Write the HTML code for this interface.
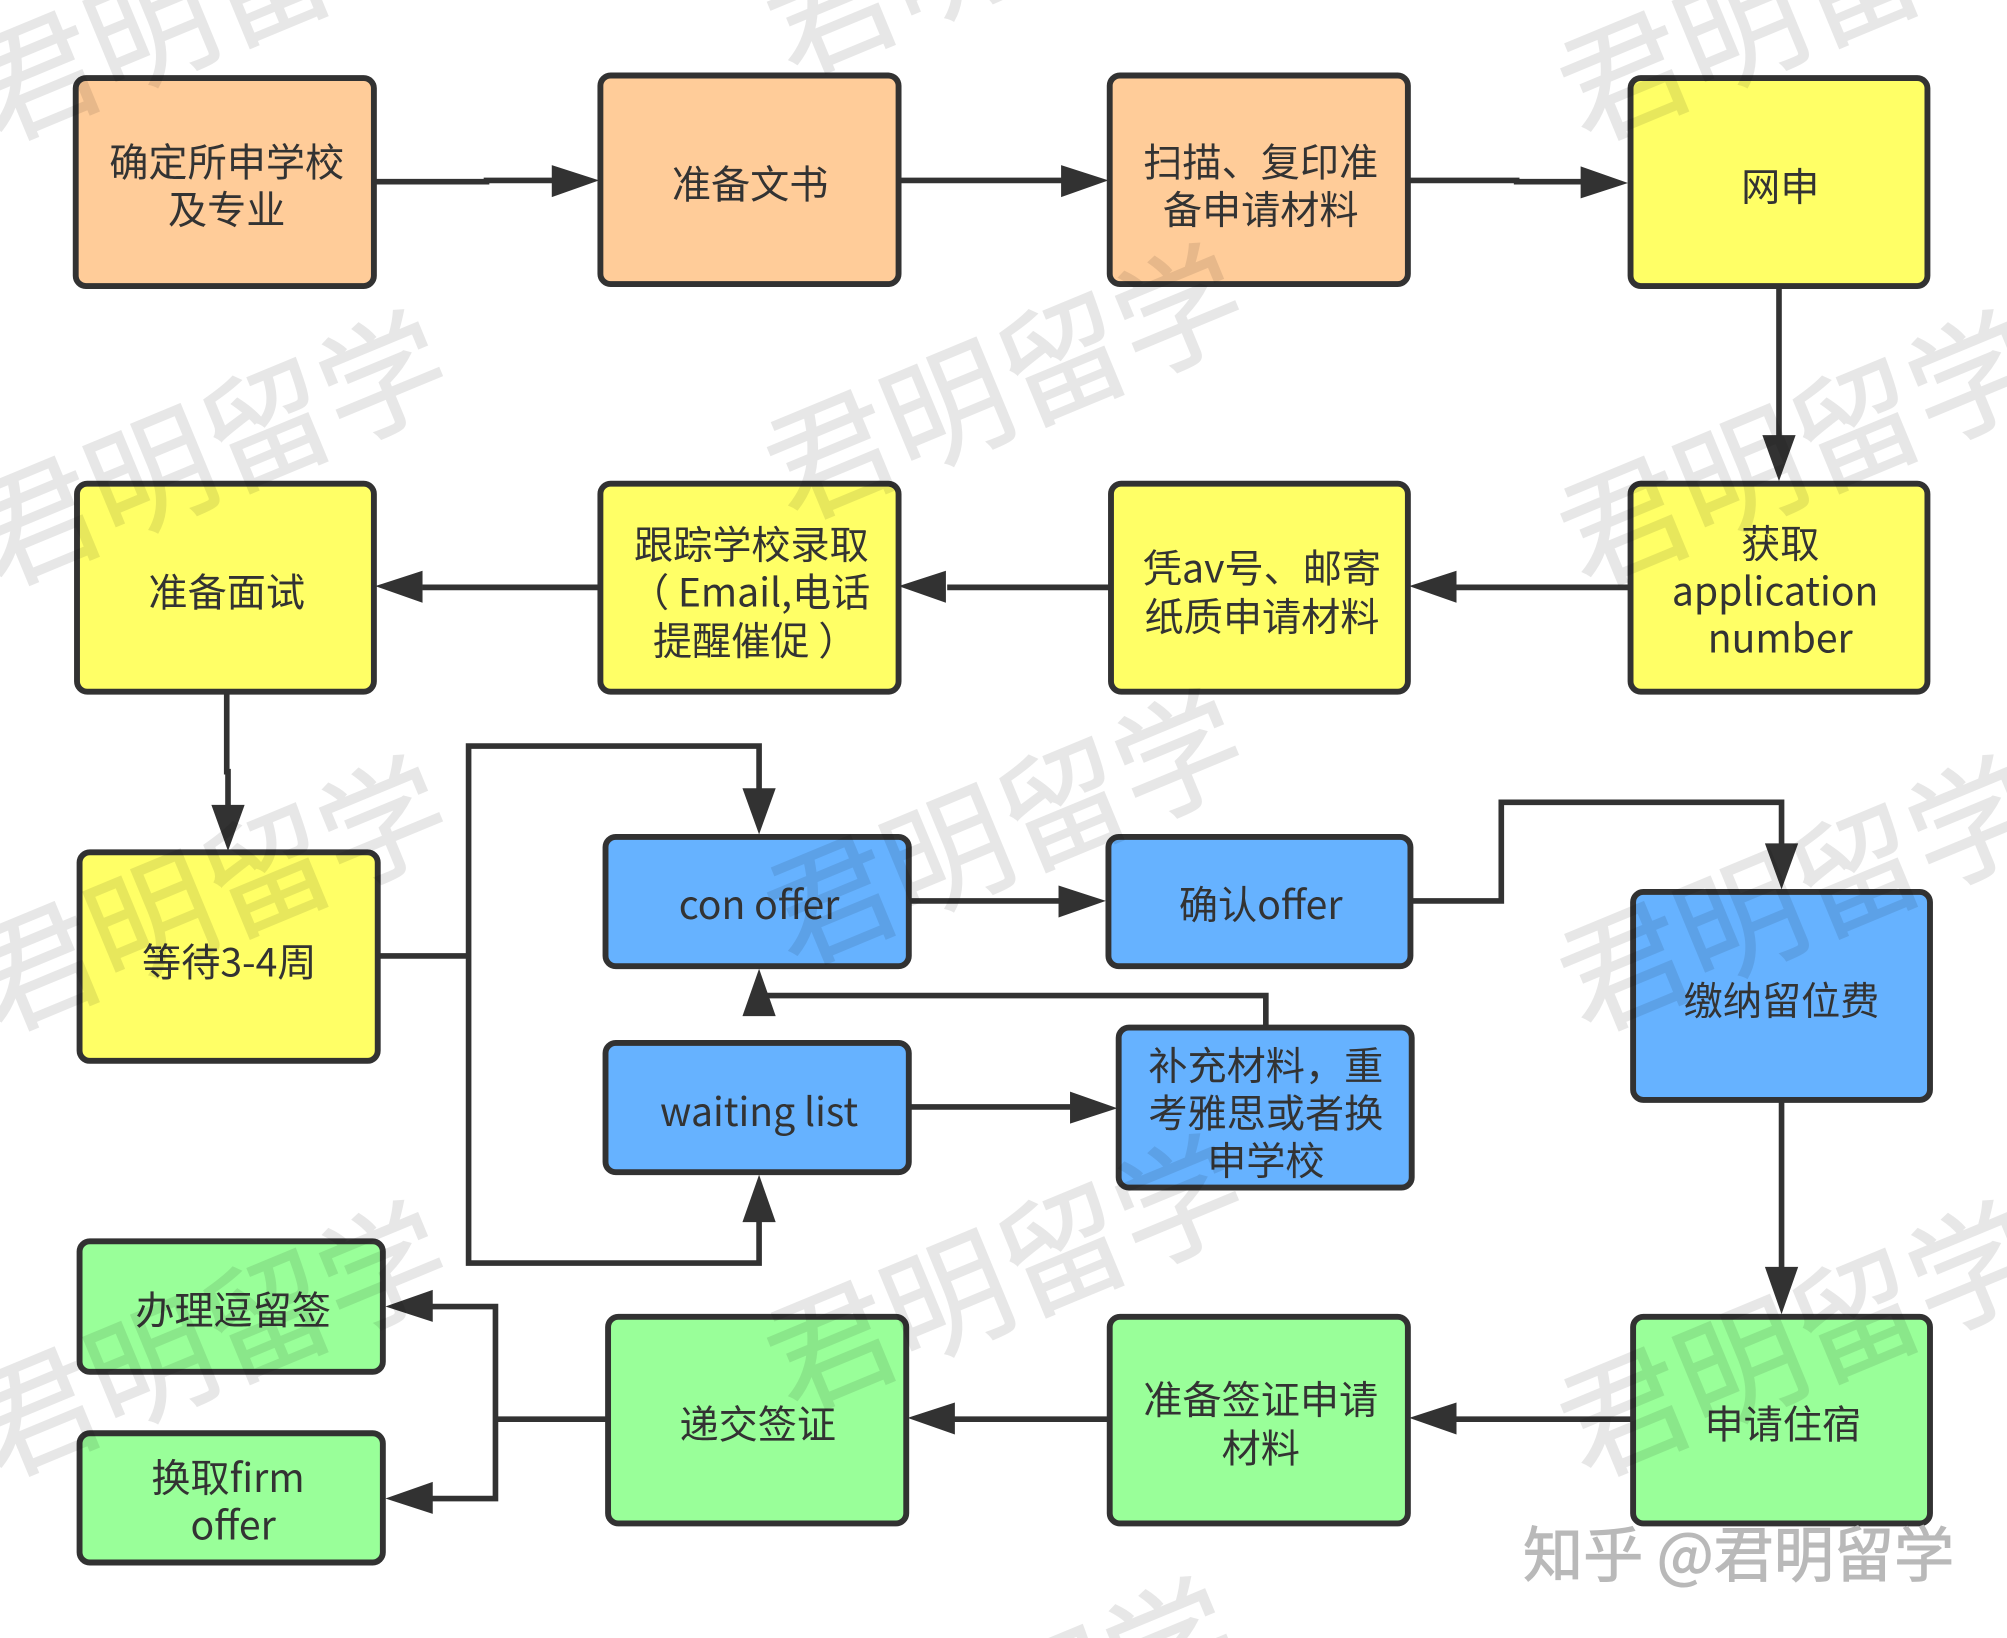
<!DOCTYPE html>
<html lang="zh"><head><meta charset="utf-8"><title>留学申请流程图</title>
<style>
html,body{margin:0;padding:0;background:#fff;width:2007px;height:1638px;overflow:hidden}
svg{display:block;width:2007px;height:1638px;overflow:hidden}
text{font-family:"Liberation Sans","Noto Sans CJK SC",sans-serif}
.t{font-family:"Noto Sans CJK SC","Liberation Sans",sans-serif;font-size:30.6px;fill:#333;text-anchor:middle}
.w{font-family:"Noto Sans CJK SC",sans-serif;font-size:98px;fill:#000;stroke:#000;stroke-width:1;opacity:.09}
.b{stroke:#323232;stroke-width:4.6}
.c{fill:none;stroke:#323232;stroke-width:4.4}
.a{fill:#323232}
</style></head><body>
<svg viewBox="0 0 1568 1280" xmlns="http://www.w3.org/2000/svg">
<rect width="1568" height="1280" fill="#fff"/>
<!-- boxes -->
<g class="b">
<rect x="59" y="61" width="233" height="162.500" rx="8" fill="#ffcc99"/>
<rect x="469" y="59" width="233" height="163" rx="8" fill="#ffcc99"/>
<rect x="867" y="59" width="233" height="163" rx="8" fill="#ffcc99"/>
<rect x="1274" y="61" width="232" height="162.500" rx="8" fill="#ffff66"/>
<rect x="60" y="378" width="232" height="162.500" rx="8" fill="#ffff66"/>
<rect x="469" y="378" width="233" height="162.500" rx="8" fill="#ffff66"/>
<rect x="868" y="378" width="232" height="162.500" rx="8" fill="#ffff66"/>
<rect x="1274" y="378" width="232" height="162.500" rx="8" fill="#ffff66"/>
<rect x="62" y="666" width="233" height="163" rx="8" fill="#ffff66"/>
<rect x="473" y="654" width="237" height="101" rx="8" fill="#66b2ff"/>
<rect x="866" y="654" width="236" height="101" rx="8" fill="#66b2ff"/>
<rect x="1276" y="697" width="232" height="162.500" rx="8" fill="#66b2ff"/>
<rect x="473" y="815" width="237" height="101" rx="8" fill="#66b2ff"/>
<rect x="874" y="803" width="229" height="125" rx="8" fill="#66b2ff"/>
<rect x="62" y="970" width="237" height="102" rx="8" fill="#99ff99"/>
<rect x="62" y="1120" width="237" height="101" rx="8" fill="#99ff99"/>
<rect x="475" y="1029" width="233" height="161.500" rx="8" fill="#99ff99"/>
<rect x="867" y="1029" width="233" height="161.500" rx="8" fill="#99ff99"/>
<rect x="1276" y="1029" width="232" height="161.500" rx="8" fill="#99ff99"/>
</g>
<!-- connectors -->
<path class="c" d="M294 142H380V141H435"/>
<polygon class="a" points="431,129 468,141 431,154"/>
<path class="c" d="M704 141H835"/>
<polygon class="a" points="829,129 866,141 829,154"/>
<path class="c" d="M1102 141H1185V142H1240"/>
<polygon class="a" points="1235,130 1272,143 1235,155"/>
<path class="c" d="M1390 225V345"/>
<polygon class="a" points="1377,340 1403,340 1390,376"/>
<path class="c" d="M1272 459H1135"/>
<polygon class="a" points="1138,446 1101,458 1138,471"/>
<path class="c" d="M866 459H740"/>
<polygon class="a" points="739,446 702,458 739,471"/>
<path class="c" d="M467 459H330"/>
<polygon class="a" points="330,446 293,458 330,471"/>
<path class="c" d="M177 542V603H178V635"/>
<polygon class="a" points="165,629 191,629 178,665"/>
<path class="c" d="M297 747H366"/>
<path class="c" d="M593 620V583H366V987H593V950"/>
<polygon class="a" points="580,616 606,616 593,652"/>
<polygon class="a" points="580,955 606,955 593,918"/>
<path class="c" d="M712 704H835"/>
<polygon class="a" points="827,692 864,704 827,717"/>
<path class="c" d="M1104 704H1173V627H1392V665"/>
<polygon class="a" points="1379,659 1405,659 1392,695"/>
<path class="c" d="M989 801V778H593"/>
<polygon class="a" points="580,794 606,794 593,757"/>
<path class="c" d="M712 865H845"/>
<polygon class="a" points="836,853 873,866 836,878"/>
<path class="c" d="M1392 860V995"/>
<polygon class="a" points="1379,990 1405,990 1392,1027"/>
<path class="c" d="M1274 1109H1135"/>
<polygon class="a" points="1138,1096 1101,1108 1138,1121"/>
<path class="c" d="M866 1109H745"/>
<polygon class="a" points="746,1096 709,1108 746,1121"/>
<path class="c" d="M473 1109H387"/>
<path class="c" d="M335 1021H387V1171H335"/>
<polygon class="a" points="338,1008 301,1021 338,1033"/>
<polygon class="a" points="338,1158 301,1171 338,1183"/>
<!-- labels -->
<text class="t" x="177" y="138">确定所申学校</text><text class="t" x="177" y="175">及专业</text>
<text class="t" x="586" y="155">准备文书</text>
<text class="t" x="985" y="138">扫描、复印准</text><text class="t" x="985" y="175">备申请材料</text>
<text class="t" x="1391" y="157">网申</text>
<text class="t" x="1391" y="436">获取</text><text class="t" x="1387" y="473">application</text><text class="t" x="1391" y="510">number</text>
<text class="t" x="986" y="455">凭av号、邮寄</text><text class="t" x="986" y="493">纸质申请材料</text>
<text class="t" x="587" y="437">跟踪学校录取</text><text class="t" x="586" y="474">（ Email,电话</text><text class="t" x="590" y="512">提醒催促 ）</text>
<text class="t" x="177" y="474">准备面试</text>
<text class="t" x="179" y="763">等待3-4周</text>
<text class="t" x="593" y="718">con offer</text>
<text class="t" x="985" y="718">确认offer</text>
<text class="t" x="593" y="880">waiting list</text>
<text class="t" x="989" y="844">补充材料<tspan style="font-family:'Noto Sans CJK TC',sans-serif">，</tspan>重</text><text class="t" x="989" y="881">考雅思或者换</text><text class="t" x="989" y="918">申学校</text>
<text class="t" x="1392" y="793">缴纳留位费</text>
<text class="t" x="182" y="1035">办理逗留签</text>
<text class="t" x="178" y="1166">换取firm</text><text class="t" x="182" y="1203">offer</text>
<text class="t" x="592" y="1124">递交签证</text>
<text class="t" x="985" y="1105">准备签证申请</text><text class="t" x="985" y="1143">材料</text>
<text class="t" x="1393" y="1124">申请住宿</text>
<!-- watermarks -->
<g>
<text class="w" transform="translate(-4 112) rotate(-22.500)">君明留学</text>
<text class="w" transform="translate(618 60) rotate(-22.500)">君明留学</text>
<text class="w" transform="translate(1238 112) rotate(-22.500)">君明留学</text>
<text class="w" transform="translate(-4 460) rotate(-22.500)">君明留学</text>
<text class="w" transform="translate(618 408) rotate(-22.500)">君明留学</text>
<text class="w" transform="translate(1238 460) rotate(-22.500)">君明留学</text>
<text class="w" transform="translate(-4 808) rotate(-22.500)">君明留学</text>
<text class="w" transform="translate(618 756) rotate(-22.500)">君明留学</text>
<text class="w" transform="translate(1238 808) rotate(-22.500)">君明留学</text>
<text class="w" transform="translate(-4 1156) rotate(-22.500)">君明留学</text>
<text class="w" transform="translate(618 1104) rotate(-22.500)">君明留学</text>
<text class="w" transform="translate(1238 1156) rotate(-22.500)">君明留学</text>
<text class="w" transform="translate(792 1375) rotate(-22.500)">留学</text>
</g>
<text x="1190" y="1232" style="font-family:'Noto Sans CJK SC',sans-serif;font-size:47px;fill:#b9b9b9;stroke:#b9b9b9;stroke-width:.8">知乎 @君明留学</text>
</svg>
</body></html>
